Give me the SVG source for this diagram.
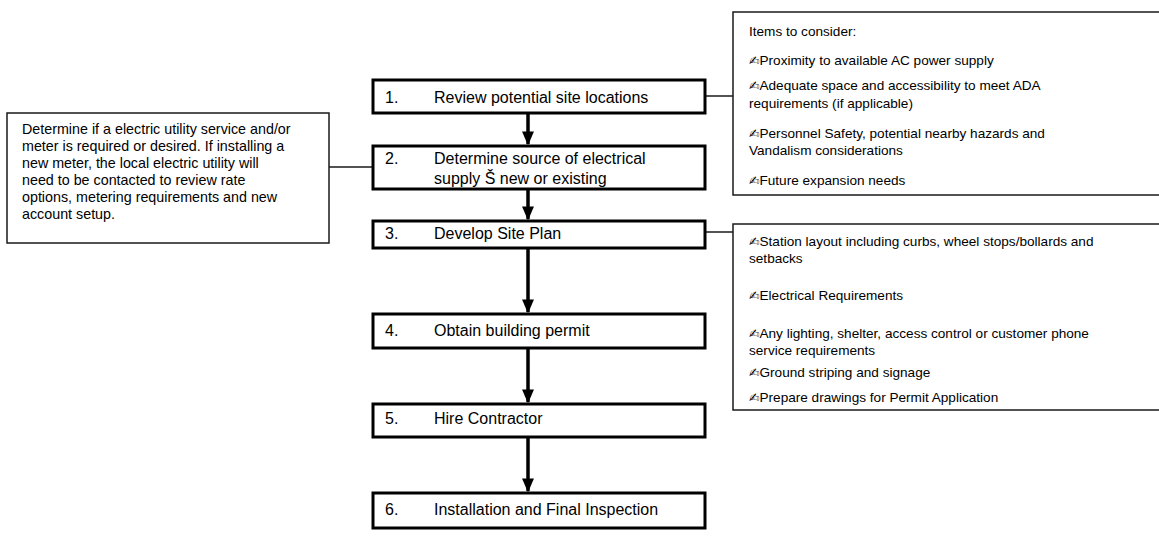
<svg xmlns="http://www.w3.org/2000/svg" width="1159" height="554" viewBox="0 0 1159 554">
<defs>
<style>
.step{fill:#fff;stroke:#000;stroke-width:3}
.note{fill:#fff;stroke:#1a1a1a;stroke-width:1.5}
.t{font-family:"Liberation Sans",Arial,sans-serif;font-size:16px;fill:#000}
.n{font-family:"Liberation Sans",Arial,sans-serif;font-size:14.3px;fill:#000}
.s{font-family:"Liberation Sans",Arial,sans-serif;font-size:13.6px;fill:#000}
.b{font-family:"DejaVu Sans",sans-serif;font-size:12.5px}
.ln{stroke:#1a1a1a;stroke-width:1.5;fill:none}
.sh{stroke:#000;stroke-width:3.5;fill:none}
</style>
<marker id="ah" markerWidth="4" markerHeight="3.4" refX="3.6" refY="1.7" orient="auto" markerUnits="strokeWidth"><path d="M0,0 L4,1.7 L0,3.4 Z" fill="#000"/></marker>
</defs>
<g id="connectors">
<line class="sh" x1="528" y1="114" x2="528" y2="144" marker-end="url(#ah)"/>
<line class="sh" x1="528" y1="190" x2="528" y2="219" marker-end="url(#ah)"/>
<line class="sh" x1="528" y1="249" x2="528" y2="312" marker-end="url(#ah)"/>
<line class="sh" x1="528" y1="349" x2="528" y2="402" marker-end="url(#ah)"/>
<line class="sh" x1="528" y1="438" x2="528" y2="491" marker-end="url(#ah)"/>
<line class="ln" x1="706" y1="96" x2="733" y2="96"/>
<line class="ln" x1="329" y1="167" x2="372" y2="167"/>
<line class="ln" x1="706" y1="232" x2="733" y2="232"/>
</g>
<g id="step1"><rect class="step" x="373" y="80" width="332" height="33"/><text class="t" x="385" y="103">1.</text><text class="t" x="434" y="103">Review potential site locations</text></g>
<g id="step2"><rect class="step" x="373" y="146" width="332" height="43"/><text class="t" x="385" y="164">2.</text><text class="t" x="434" y="164">Determine source of electrical</text><text class="t" x="434" y="184">supply  Š new or existing</text></g>
<g id="step3"><rect class="step" x="373" y="221" width="332" height="27"/><text class="t" x="385" y="239">3.</text><text class="t" x="434" y="239">Develop Site Plan</text></g>
<g id="step4"><rect class="step" x="373" y="314" width="332" height="34"/><text class="t" x="385" y="336">4.</text><text class="t" x="434" y="336">Obtain building permit</text></g>
<g id="step5"><rect class="step" x="373" y="404" width="332" height="33"/><text class="t" x="385" y="424">5.</text><text class="t" x="434" y="424">Hire Contractor</text></g>
<g id="step6"><rect class="step" x="373" y="493" width="332" height="35"/><text class="t" x="385" y="515">6.</text><text class="t" x="434" y="515">Installation and Final Inspection</text></g>
<g id="note-left"><rect class="note" x="7" y="113" width="322" height="130"/>
<text class="n" x="22" y="134">Determine if a electric utility service and/or</text>
<text class="n" x="22" y="151">meter is required or desired.  If installing a</text>
<text class="n" x="22" y="168">new meter, the local electric utility will</text>
<text class="n" x="22" y="185">need to be contacted to review rate</text>
<text class="n" x="22" y="202">options, metering requirements and new</text>
<text class="n" x="22" y="219">account setup.</text>
</g>
<g id="note-right1"><rect class="note" x="733" y="12" width="440" height="183"/>
<text class="s" x="749" y="36">Items to consider:</text>
<text class="s" x="749" y="65"><tspan class="b">✍</tspan>Proximity to available AC power supply</text>
<text class="s" x="749" y="90"><tspan class="b">✍</tspan>Adequate space and accessibility to meet ADA</text>
<text class="s" x="749" y="108">requirements (if applicable)</text>
<text class="s" x="749" y="138"><tspan class="b">✍</tspan>Personnel Safety, potential nearby hazards and</text>
<text class="s" x="749" y="155">Vandalism considerations</text>
<text class="s" x="749" y="185"><tspan class="b">✍</tspan>Future expansion needs</text>
</g>
<g id="note-right2"><rect class="note" x="733" y="224" width="440" height="186"/>
<text class="s" x="749" y="246"><tspan class="b">✍</tspan>Station layout including curbs, wheel stops/bollards and</text>
<text class="s" x="749" y="263">setbacks</text>
<text class="s" x="749" y="300"><tspan class="b">✍</tspan>Electrical Requirements</text>
<text class="s" x="749" y="338"><tspan class="b">✍</tspan>Any lighting, shelter,  access control or customer phone</text>
<text class="s" x="749" y="355">service requirements</text>
<text class="s" x="749" y="377"><tspan class="b">✍</tspan>Ground striping and signage</text>
<text class="s" x="749" y="402"><tspan class="b">✍</tspan>Prepare drawings for Permit Application</text>
</g>
</svg>
